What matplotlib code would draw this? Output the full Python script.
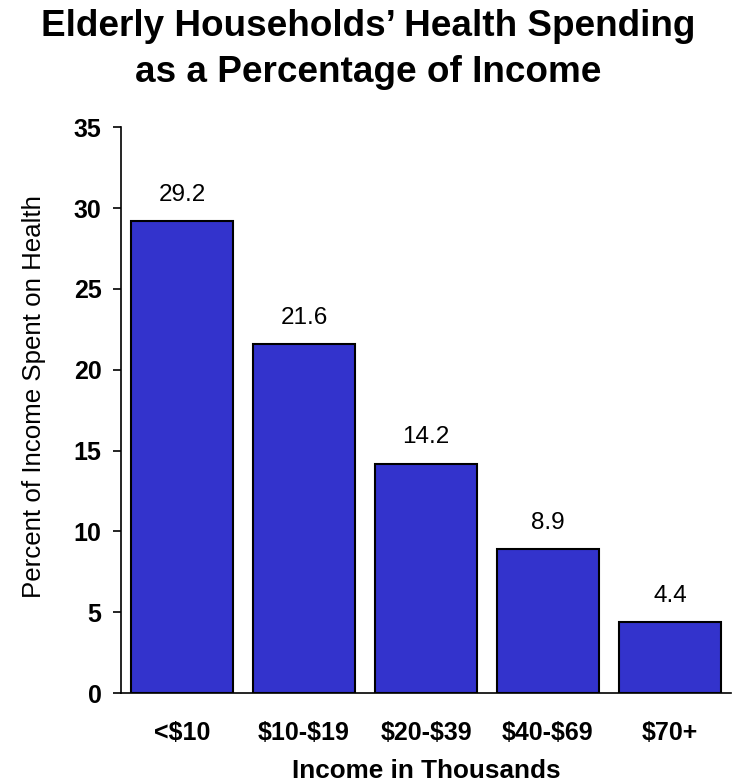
import matplotlib
matplotlib.use("Agg")
import matplotlib.pyplot as plt

categories = ["<\\$10", "\\$10-\\$19", "\\$20-\\$39", "\\$40-\\$69", "\\$70+"]
values = [29.2, 21.6, 14.2, 8.9, 4.4]
yticks = [0, 5, 10, 15, 20, 25, 30, 35]
title_lines = ["Elderly Households\u2019 Health Spending", "as a Percentage of Income"]

plt.rcParams['font.family'] = ['Liberation Sans', 'DejaVu Sans']

fig = plt.figure(figsize=(7.32, 7.83), dpi=100)
ax = fig.add_axes([0.1653, 0.1149, 0.8333, 0.7225])

x = range(len(categories))
bars = ax.bar(x, values, width=0.836, color="#3333CC", edgecolor="black", linewidth=1.5)
for xi, v in zip(x, values):
    ax.annotate(f"{v}", (xi, v), xytext=(0, 11), textcoords="offset points",
                ha="center", va="bottom", fontsize=17.5)

ax.set_xlim(-0.5, 4.5)
ax.set_ylim(0, 35)
ax.set_yticks(yticks)
ax.set_yticklabels([str(t) for t in yticks], fontsize=18, fontweight="bold")
ax.set_xticks(list(x))
ax.set_xticklabels(categories, fontsize=18, fontweight="bold")
ax.tick_params(axis="x", length=0, pad=20)
ax.tick_params(axis="y", length=6, width=1.2, pad=8)
for s in ["top", "right"]:
    ax.spines[s].set_visible(False)
ax.spines["left"].set_linewidth(1.2)
ax.spines["bottom"].set_linewidth(1.2)

ax.set_xlabel("Income in Thousands", fontsize=18.8, fontweight="bold", labelpad=10)
ax.set_ylabel("Percent of Income Spent on Health", fontsize=18.6)
ax.yaxis.set_label_coords(-0.123, 0.524)

fig.text(0.503, 0.954, title_lines[0], fontsize=26.6, fontweight="bold",
         ha="center", va="baseline")
fig.text(0.503, 0.8953, title_lines[1], fontsize=26.6, fontweight="bold",
         ha="center", va="baseline")

fig.savefig("out.png", dpi=100)
